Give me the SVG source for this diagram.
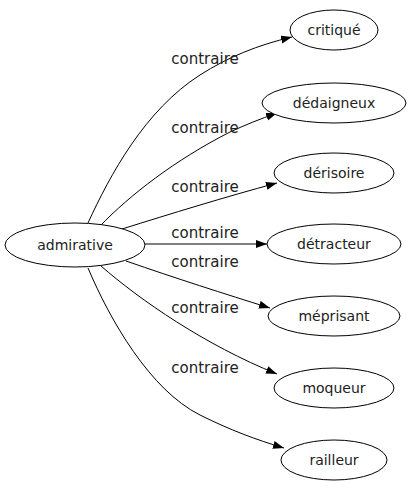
<svg xmlns="http://www.w3.org/2000/svg" width="414" height="491" viewBox="0 0 414 491">
<style>
.n ellipse{fill:#fff;stroke:#000;stroke-width:1}
text{font-family:"DejaVu Sans",sans-serif;font-size:14px;fill:#222;text-anchor:middle}
.e text{font-size:15px}
.e path{fill:none;stroke:#000;stroke-width:1}
</style>
<defs>
<marker id="a" markerUnits="userSpaceOnUse" markerWidth="12" markerHeight="9" refX="11" refY="4" orient="auto">
<path d="M0,0L11,4L0,8z" fill="#000"/>
</marker>
</defs>
<rect width="414" height="491" fill="#fff"/>
<g class="e">
<path d="M88,223 C110,175 145,110 200,75 C228,57 258,45 292,37" marker-end="url(#a)"/>
<path d="M100,226 C130,195 175,160 230,132 C245,125 260,119 277,113" marker-end="url(#a)"/>
<path d="M122,229 C170,214 225,197 277,183" marker-end="url(#a)"/>
<path d="M145,244 L267,244" marker-end="url(#a)"/>
<path d="M126,261 C175,278 225,294 270,308" marker-end="url(#a)"/>
<path d="M101,266 C140,300 205,345 277,374" marker-end="url(#a)"/>
<path d="M88,268 C110,320 150,390 200,415 C230,430 257,440 284,448" marker-end="url(#a)"/>
<text x="205" y="64">contraire</text>
<text x="205" y="133">contraire</text>
<text x="205" y="192">contraire</text>
<text x="205" y="238">contraire</text>
<text x="205" y="267">contraire</text>
<text x="205" y="313">contraire</text>
<text x="205" y="373">contraire</text>
</g>
<g class="n" id="admirative"><ellipse cx="75" cy="245" rx="70" ry="22"/><text x="75" y="250">admirative</text></g>
<g class="n" id="critique"><ellipse cx="334" cy="30" rx="44" ry="20"/><text x="334" y="35">critiqué</text></g>
<g class="n" id="dedaigneux"><ellipse cx="334" cy="103" rx="72" ry="20"/><text x="334" y="108">dédaigneux</text></g>
<g class="n" id="derisoire"><ellipse cx="334" cy="173" rx="60" ry="20"/><text x="334" y="178">dérisoire</text></g>
<g class="n" id="detracteur"><ellipse cx="334" cy="244" rx="67" ry="20"/><text x="334" y="249">détracteur</text></g>
<g class="n" id="meprisant"><ellipse cx="334" cy="316" rx="66" ry="20"/><text x="334" y="321">méprisant</text></g>
<g class="n" id="moqueur"><ellipse cx="334" cy="388" rx="60" ry="20"/><text x="334" y="393">moqueur</text></g>
<g class="n" id="railleur"><ellipse cx="334" cy="460" rx="53" ry="20"/><text x="334" y="465">railleur</text></g>
</svg>
